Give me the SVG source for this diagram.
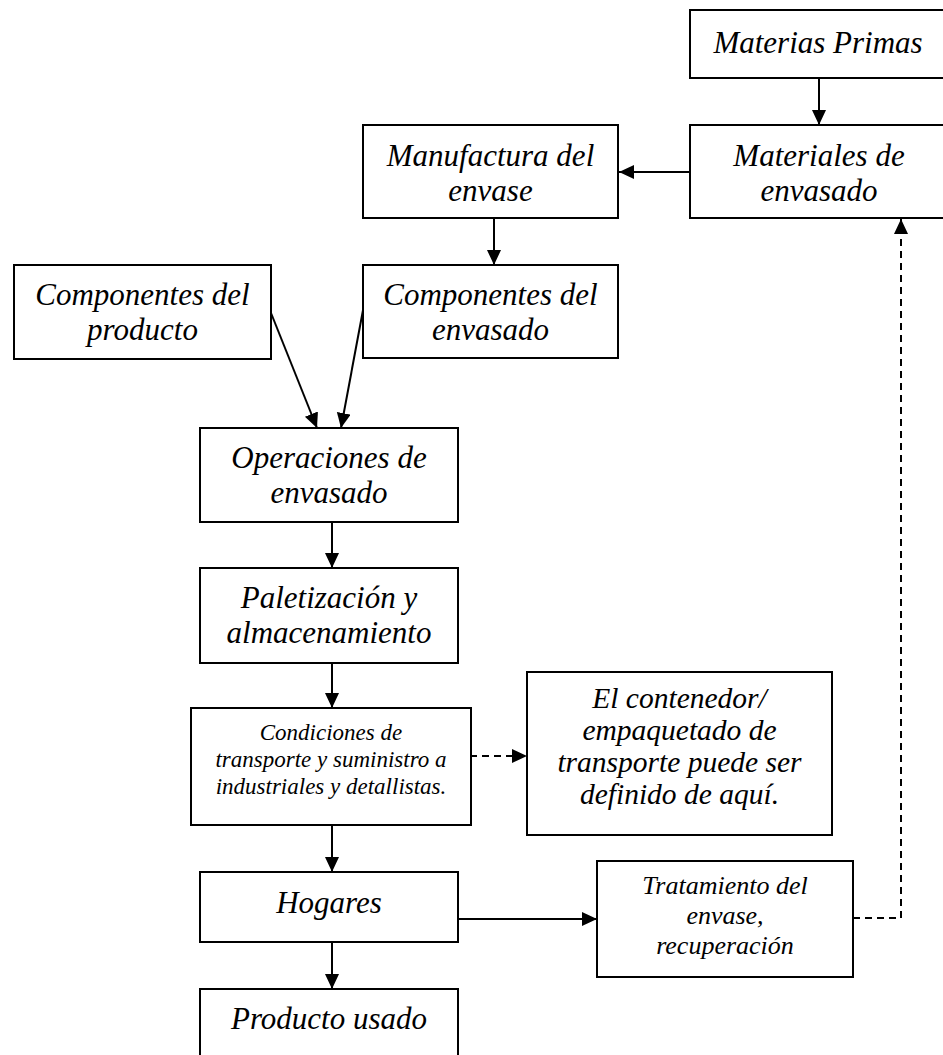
<svg xmlns="http://www.w3.org/2000/svg" width="943" height="1055" viewBox="0 0 943 1055">
<style>
.box{fill:#fff;stroke:#000;stroke-width:2}
.t{font-family:"Liberation Serif","Times New Roman",serif;font-style:italic;fill:#000;text-anchor:middle}
.big{font-size:31px}
.mid{font-size:29.5px}
.sm{font-size:23px}
.tr{font-size:26px}
.c{fill:none;stroke:#000;stroke-width:2}
.d{stroke-dasharray:7 5}
</style>
<defs>
<marker id="ah" markerUnits="userSpaceOnUse" markerWidth="16" markerHeight="15" refX="15" refY="7" orient="auto">
<path d="M0,0 L15,7 L0,14 z" fill="#000"/>
</marker>
</defs>
<rect width="943" height="1055" fill="#fff"/>
<g id="connectors">
<line class="c" x1="819" y1="78" x2="819" y2="125" marker-end="url(#ah)"/>
<line class="c" x1="690" y1="172" x2="619" y2="172" marker-end="url(#ah)"/>
<line class="c" x1="494" y1="218" x2="494" y2="265" marker-end="url(#ah)"/>
<line class="c" x1="271" y1="313" x2="317" y2="428" marker-end="url(#ah)"/>
<line class="c" x1="363" y1="310" x2="341" y2="428" marker-end="url(#ah)"/>
<line class="c" x1="332" y1="522" x2="332" y2="568" marker-end="url(#ah)"/>
<line class="c" x1="332" y1="663" x2="332" y2="708" marker-end="url(#ah)"/>
<line class="c d" x1="458" y1="756" x2="527" y2="756" marker-end="url(#ah)"/>
<line class="c" x1="332" y1="825" x2="332" y2="872" marker-end="url(#ah)"/>
<line class="c" x1="332" y1="942" x2="332" y2="989" marker-end="url(#ah)"/>
<line class="c" x1="458" y1="919" x2="597" y2="919" marker-end="url(#ah)"/>
<polyline class="c d" points="853,918 901,918 901,219" marker-end="url(#ah)"/>
</g>
<g id="materias-primas">
<rect class="box" x="690" y="10" width="260" height="68"/>
<text class="t big" x="818" y="53">Materias Primas</text>
</g>
<g id="materiales-envasado">
<rect class="box" x="690" y="125" width="260" height="93"/>
<text class="t big" x="819" y="166">Materiales de</text>
<text class="t big" x="819" y="201">envasado</text>
</g>
<g id="manufactura-envase">
<rect class="box" x="363" y="125" width="255" height="93"/>
<text class="t big" x="490.5" y="166">Manufactura del</text>
<text class="t big" x="490.5" y="201">envase</text>
</g>
<g id="componentes-producto">
<rect class="box" x="14" y="265" width="257" height="94"/>
<text class="t big" x="142.5" y="305">Componentes del</text>
<text class="t big" x="142.5" y="340">producto</text>
</g>
<g id="componentes-envasado">
<rect class="box" x="363" y="265" width="255" height="93"/>
<text class="t big" x="490.5" y="305">Componentes del</text>
<text class="t big" x="490.5" y="340">envasado</text>
</g>
<g id="operaciones-envasado">
<rect class="box" x="200" y="428" width="258" height="94"/>
<text class="t big" x="329" y="468">Operaciones de</text>
<text class="t big" x="329" y="503">envasado</text>
</g>
<g id="paletizacion">
<rect class="box" x="200" y="568" width="258" height="95"/>
<text class="t big" x="329" y="608">Paletización y</text>
<text class="t big" x="329" y="643">almacenamiento</text>
</g>
<g id="condiciones-transporte">
<rect class="box" x="191" y="708" width="280" height="117"/>
<text class="t sm" x="331" y="740">Condiciones de</text>
<text class="t sm" x="331" y="767">transporte y suministro a</text>
<text class="t sm" x="331" y="794">industriales y detallistas.</text>
</g>
<g id="contenedor">
<rect class="box" x="527" y="672" width="305" height="163"/>
<text class="t mid" x="679.5" y="708">El contenedor/</text>
<text class="t mid" x="679.5" y="740">empaquetado de</text>
<text class="t mid" x="679.5" y="772">transporte puede ser</text>
<text class="t mid" x="679.5" y="804">definido de aquí.</text>
</g>
<g id="hogares">
<rect class="box" x="200" y="872" width="258" height="70"/>
<text class="t big" x="329" y="913">Hogares</text>
</g>
<g id="tratamiento">
<rect class="box" x="597" y="861" width="256" height="116"/>
<text class="t tr" x="725" y="894">Tratamiento del</text>
<text class="t tr" x="725" y="924">envase,</text>
<text class="t tr" x="725" y="954">recuperación</text>
</g>
<g id="producto-usado">
<rect class="box" x="200" y="989" width="258" height="75"/>
<text class="t big" x="329" y="1029">Producto usado</text>
</g>
</svg>
